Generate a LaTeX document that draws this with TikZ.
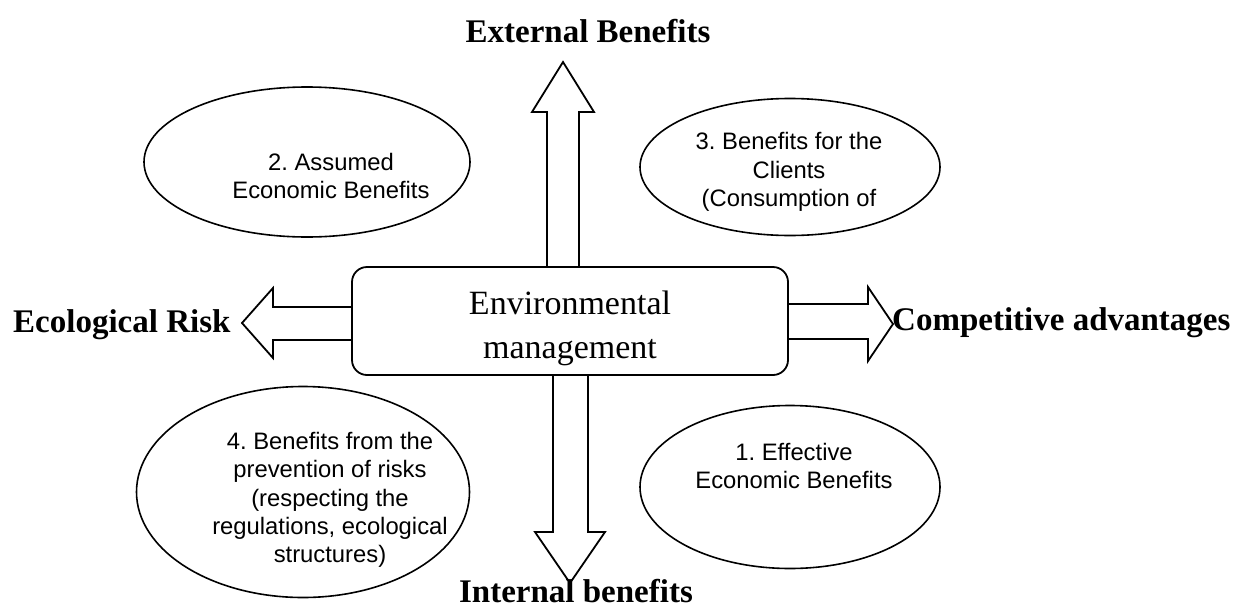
\documentclass[tikz,border=0pt]{standalone}
\usepackage{fontspec}
\setmainfont{Liberation Serif}
\newfontfamily\ellfont{Liberation Sans}
\usetikzlibrary{shapes.geometric}
\frenchspacing
\begin{document}
\begin{tikzpicture}[x=1pt,y=-1pt,
  ell/.style={draw,line width=1.6pt,ellipse,inner sep=0pt},
  etext/.style={font=\ellfont\fontsize{23.8}{28.3}\selectfont,align=center,inner sep=0pt},
  blockarrow/.style={draw,line width=1.8pt,fill=white,line join=miter},
  lab/.style={font=\bfseries\fontsize{33}{40}\selectfont,inner sep=0pt}]
\useasboundingbox (0,0) rectangle (1244,608);
\fill[white] (0,0) rectangle (1244,608);

% ellipses
\node[ell,minimum width=326pt,minimum height=150pt] (e2) at (307,162) {};
\node[etext] (t2) at (331,176) {2. Assumed\\Economic Benefits};
\node[ell,minimum width=300pt,minimum height=137pt] (e3) at (790,167) {};
\node[etext] (t3) at (789,172) {3. Benefits for the\\Clients\\(Consumption of};
\node[ell,minimum width=333pt,minimum height=211pt] (e4) at (303,492) {};
\node[etext] (t4) at (330,500) {4. Benefits from the\\prevention of risks\\(respecting the\\regulations, ecological\\structures)};
\node[ell,minimum width=300pt,minimum height=163pt] (e1) at (790,487) {};
\node[etext] (t1) at (794,466) {1. Effective\\Economic Benefits};

% central box
\node[draw,rounded corners=15pt,line width=1.8pt,minimum width=436pt,minimum height=108pt,fill=white] (em) at (570,321) {};
\node[font=\fontsize{34}{44}\selectfont,align=center,inner sep=0pt] (emt) at (570,328) {Environmental\\management};

% block arrows
\draw[blockarrow] (547,267) -- (547,112) -- (532,112) -- (563,62) -- (594,112) -- (579,112) -- (579,267) -- cycle;
\draw[blockarrow] (553,375) -- (553,532) -- (535,532) -- (570,583) -- (605,532) -- (588,532) -- (588,375) -- cycle;
\draw[blockarrow] (352,307) -- (273,307) -- (273,288) -- (242,323) -- (273,358) -- (273,340) -- (352,340) -- cycle;
\draw[blockarrow] (788,304) -- (868,304) -- (868,287) -- (893,324) -- (868,361) -- (868,339) -- (788,339) -- cycle;

% labels
\node[lab,anchor=base] (ext) at (588,42) {External Benefits};
\node[lab,anchor=base west] (eco) at (13,332) {Ecological Risk};
\node[lab,anchor=base west] (comp) at (892,330) {Competitive advantages};
\node[lab,anchor=base] (int) at (576,602) {Internal benefits};
\end{tikzpicture}
\end{document}
